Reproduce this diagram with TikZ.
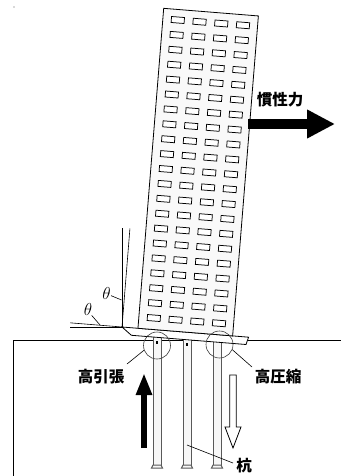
\documentclass[tikz,border=0pt]{standalone}
\usepackage{fontspec}
\newfontfamily\jpfont{Noto Sans CJK JP}
\usetikzlibrary{arrows.meta}

\begin{document}
\begin{tikzpicture}
            [x=1pt,y=-1pt,thick,every node/.style={inner sep=0pt},
             jplabel/.style={font=\jpfont\bfseries\fontsize{15.5}{15.5}\selectfont},
             window/.style={draw,fill=white,line width=0.75pt},
             pile/.style={draw=black!65,fill=gray!6,line width=1pt},
             ring/.style={circle,draw=black!75,line width=0.6pt,minimum size=27pt},
             leader/.style={line width=0.6pt}]
            \useasboundingbox (0,0) rectangle (341,476);
            \fill[gray!60] (14,7) circle (0.8);

            % ground
            \coordinate (G0) at (13,476);
            \coordinate (G1) at (13,340);
            \coordinate (G2) at (341,340);
            \draw[line width=0.7pt] (G0) -- (G1) -- (G2);

            % piles
            \foreach \name/\x in {P1/157,P2/187,P3/217}{
                \draw[pile] (\x-4,335) rectangle (\x+4,465);
                \draw[pile] (\x-4,465) -- (\x+4,465) -- (\x+5.5,468) -- (\x-5.5,468) -- cycle;
            }
            \fill (155.8,341) rectangle (158.2,344);
            \fill (185.8,343) rectangle (188.2,346);
            \coordinate (P2) at (187,445);

            % tower on its footing, leaning
            \begin{scope}[shift={(122,327)},rotate=-4.6]
                \draw[fill=white,line width=0.8pt] (0,0) -- (127,0) -- (125,7.5) -- (10,7.5) -- cycle;
                \draw[fill=gray!5,line width=0.8pt] (16,0) rectangle (111,-321);
                \foreach \r in {0,...,20}
                    \foreach \c in {0,...,3}
                        \draw[window] ({24.5+21.8*\c},{-313.5+14.95*\r}) rectangle ++(13,6);
                \coordinate (O) at (0,0);
                \coordinate (T1) at (0,-99);
                \coordinate (T2) at (-52,0);
            \end{scope}

            % angle marks
            \coordinate (V0) at (122,228);
            \coordinate (H0) at (70,327);
            \draw[leader] (V0) -- (O) -- (H0);
            \draw[leader] (T1) -- (O) -- (T2);
            \node[font=\fontsize{17}{17}\selectfont] (th1) at (106.5,293) {$\theta$};
            \node[font=\fontsize{17}{17}\selectfont] (th2) at (88,309) {$\theta$};
            \coordinate (A1) at (121.5,300);
            \coordinate (A2) at (100,325);
            \draw[leader] (th1.-30) -- (A1);
            \draw[leader] (th2.-60) -- (A2);

            % pile heads
            \node[ring] (C1) at (157,345.5) {};
            \node[ring] (C2) at (219.5,344.5) {};

            % labels
            \node[jplabel] (inertia) at (280,100) {慣性力};
            \node[jplabel] (tension) at (101,377) {高引張};
            \node[jplabel] (compress) at (278,377) {高圧縮};
            \node[jplabel] (kui) at (244,466) {杭};
            \coordinate (L1) at (127,364);
            \coordinate (L2) at (252,367);
            \coordinate (L3) at (233,463);
            \draw[leader] (C1.200) -- (L1);
            \draw[leader] (C2.-22) -- (L2);
            \draw[leader] (P2) -- (L3);

            % forces
            \coordinate (F0) at (248,124);
            \coordinate (F1) at (335,124);
            \draw[line width=9pt,-{Triangle[length=28pt,width=27pt]}] (F0) -- (F1);
            \coordinate (U0) at (144,448);
            \coordinate (U1) at (144,373);
            \draw[line width=6.7pt,-{Triangle[length=22pt,width=15pt]}] (U0) -- (U1);
            \draw[fill=white,line width=0.8pt] (229.7,375) -- (236.3,375) -- (236.3,427) -- (241,427)
                -- (233,448) -- (225,427) -- (229.7,427) -- cycle;
        \end{tikzpicture}
\end{document}
